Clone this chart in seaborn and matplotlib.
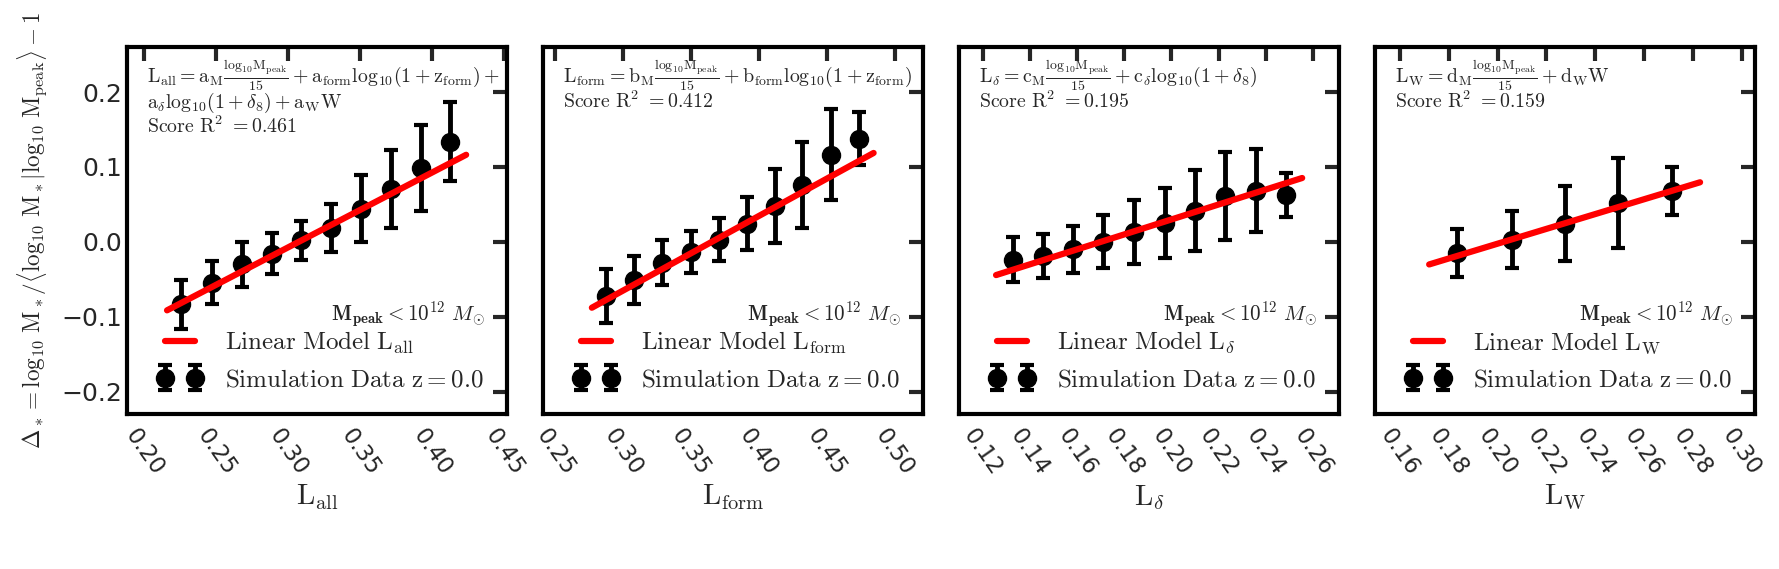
import numpy as np
import pandas as pd
import matplotlib
matplotlib.use("Agg")
import matplotlib.pyplot as plt
import seaborn as sns

# ---------------- data ----------------
x_all = [0.2257, 0.2470, 0.2678, 0.2887, 0.3090, 0.3299, 0.3507, 0.3713, 0.3920, 0.4125]
y_all = [-0.0835, -0.0547, -0.0302, -0.0156, 0.0018, 0.0187, 0.0445, 0.0711, 0.0987, 0.1340]
e_all = [0.033, 0.029, 0.030, 0.027, 0.026, 0.032, 0.045, 0.052, 0.057, 0.053]
line_all = [0.2158, 0.4236]
coef_all = [1.000, -0.3073]

x_form = [0.2873, 0.3079, 0.3287, 0.3498, 0.3704, 0.3912, 0.4118, 0.4321, 0.4529, 0.4735]
y_form = [-0.0724, -0.0515, -0.0280, -0.0134, 0.0031, 0.0240, 0.0480, 0.0765, 0.1165, 0.1378]
e_form = [0.036, 0.032, 0.030, 0.028, 0.0285, 0.0355, 0.049, 0.0575, 0.061, 0.0355]
line_form = [0.2770, 0.4846]
coef_form = [0.996, -0.3639]

x_delta = [0.1328, 0.1456, 0.1581, 0.1712, 0.1843, 0.1971, 0.2099, 0.2227, 0.2358, 0.2487]
y_delta = [-0.0236, -0.0191, -0.0102, 0.0000, 0.0133, 0.0253, 0.0418, 0.0609, 0.0684, 0.0631]
e_delta = [0.030, 0.0295, 0.031, 0.0355, 0.043, 0.047, 0.0545, 0.059, 0.0553, 0.0293]
line_delta = [0.1257, 0.2554]
coef_delta = [1.000, -0.1701]

x_w = [0.1836, 0.2058, 0.2276, 0.2495, 0.2716]
y_w = [-0.0147, 0.0031, 0.0240, 0.0520, 0.0684]
e_w = [0.032, 0.038, 0.050, 0.060, 0.032]
line_w = [0.1720, 0.2830]
coef_w = [0.989, -0.2003]

xlabels = [r'$\mathrm{L_{all}}$', r'$\mathrm{L_{form}}$', r'$\mathrm{L}_{\delta}$', r'$\mathrm{L_{W}}$']
model_labels = [r'$\mathrm{Linear\ Model\ L_{all}}$', r'$\mathrm{Linear\ Model\ L_{form}}$',
                r'$\mathrm{Linear\ Model\ L}_{\delta}$', r'$\mathrm{Linear\ Model\ L_{W}}$']
data_label = r'$\mathrm{Simulation\ Data\ z=0.0}$'
eq_lines = [
    [r'$\mathrm{L_{all}=a_M\frac{log_{10}M_{peak}}{15}+a_{form}log_{10}(1+z_{form})+}$',
     r'$\mathrm{a}_{\delta}\mathrm{log_{10}(1+}\delta_8\mathrm{)+a_W W}$',
     r'$\mathrm{Score\ R^2\ =0.461}$'],
    [r'$\mathrm{L_{form}=b_M\frac{log_{10}M_{peak}}{15}+b_{form}log_{10}(1+z_{form})}$',
     r'$\mathrm{Score\ R^2\ =0.412}$'],
    [r'$\mathrm{L}_{\delta}\mathrm{=c_M\frac{log_{10}M_{peak}}{15}+c}_{\delta}\mathrm{log_{10}(1+}\delta_8\mathrm{)}$',
     r'$\mathrm{Score\ R^2\ =0.195}$'],
    [r'$\mathrm{L_W=d_M\frac{log_{10}M_{peak}}{15}+d_W W}$',
     r'$\mathrm{Score\ R^2\ =0.159}$'],
]
mass_cut = r'$\mathbf{M_{peak}<10^{12}}\ M_{\odot}$'
ylabel = r'$\Delta_*=\mathrm{log_{10}\ M_*/\langle log_{10}\ M_*|log_{10}\ M_{peak}\rangle -1}$'

xlims = [(0.188, 0.452), (0.241, 0.521), (0.110, 0.271), (0.1498, 0.3055)]
xticks = [[0.20, 0.25, 0.30, 0.35, 0.40, 0.45],
          [0.25, 0.30, 0.35, 0.40, 0.45, 0.50],
          [0.12, 0.14, 0.16, 0.18, 0.20, 0.22, 0.24, 0.26],
          [0.16, 0.18, 0.20, 0.22, 0.24, 0.26, 0.28, 0.30]]
yticks = [-0.2, -0.1, 0.0, 0.1, 0.2]

panels = [(x_all, y_all, e_all, line_all, coef_all),
          (x_form, y_form, e_form, line_form, coef_form),
          (x_delta, y_delta, e_delta, line_delta, coef_delta),
          (x_w, y_w, e_w, line_w, coef_w)]

# ---------------- style ----------------
sns.set_theme(style="white")
plt.rcParams['font.family'] = ['DejaVu Sans']
plt.rcParams['mathtext.fontset'] = 'cm'
plt.rcParams['axes.linewidth'] = 3
plt.rcParams['legend.numpoints'] = 2

fig, axes = plt.subplots(1, 4, figsize=(17.79, 5.69), dpi=100, sharey=True)
fig.subplots_adjust(left=0.0714, right=0.9865, top=0.917, bottom=0.2724, wspace=0.0947)

for i, ax in enumerate(axes):
    xs, ys, es, lx, coef = panels[i]
    ax.errorbar(xs, ys, yerr=es, fmt='o', color='black', ms=13, elinewidth=3.5,
                capsize=5, capthick=3, label=data_label, zorder=2)
    lxs = np.array(lx)
    df = pd.DataFrame({'x': lxs, 'y': coef[0] * lxs + coef[1]})
    sns.lineplot(data=df, x='x', y='y', ax=ax, color='red', lw=4.5,
                 label=model_labels[i], zorder=3, solid_capstyle='round')
    ax.set_xlim(*xlims[i])
    ax.set_ylim(-0.23, 0.26)
    ax.set_xticks(xticks[i])
    ax.set_xticklabels(['%.2f' % t for t in xticks[i]], rotation=-55, ha='center', va='top',
                       fontsize=16.5)
    ax.set_yticks(yticks)
    ax.tick_params(direction='in', length=10, width=3, top=True, right=True)
    ax.tick_params(axis='y', pad=3.5, labelsize=18)
    ax.tick_params(axis='x', pad=8)
    if i > 0:
        ax.tick_params(labelleft=False)
    ax.set_xlabel(xlabels[i], fontsize=21, labelpad=2)
    ax.set_ylabel('')
    for s in ax.spines.values():
        s.set_color('black')
        s.set_linewidth(3)
    baselines = [0.902, 0.834, 0.766]
    for j, t in enumerate(eq_lines[i]):
        ax.text(0.053, baselines[j], t, transform=ax.transAxes, fontsize=14.3, va='baseline', ha='left')
    ax.text(0.942, 0.255, mass_cut, transform=ax.transAxes, fontsize=15.2, ha='right', va='baseline')
    ax.legend(loc='lower left', bbox_to_anchor=(0.04, 0.02), frameon=False, fontsize=18,
              handlelength=1.8, handletextpad=0.9, labelspacing=0.45, borderaxespad=0.2)

fig.text(0.0185, 0.5 * (0.917 + 0.2724), ylabel, rotation=90, fontsize=16.7,
         ha='center', va='center')

fig.savefig('out.png', dpi=100)
